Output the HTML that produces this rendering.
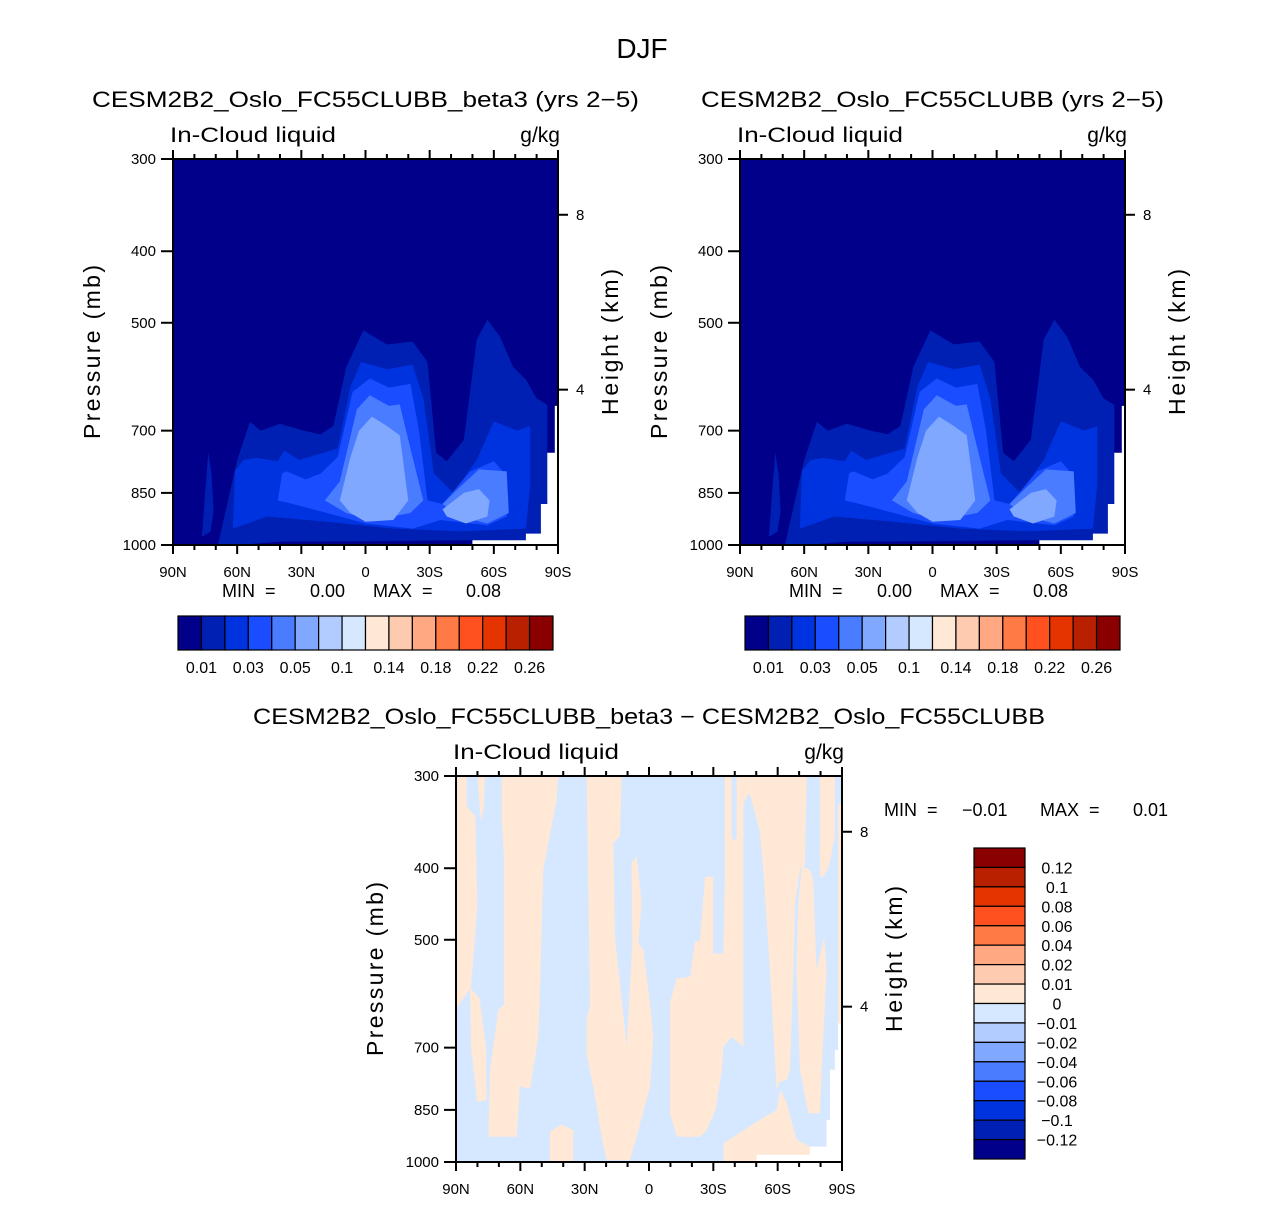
<!DOCTYPE html>
<html><head><meta charset="utf-8"><style>
html,body{margin:0;padding:0;background:#fff;}
svg text{font-family:"Liberation Sans",sans-serif;fill:#000;}
</style></head><body>
<svg id="fig" width="1285" height="1200" viewBox="0 0 1285 1200" xmlns="http://www.w3.org/2000/svg"></svg>
<script>
// ---------- data ----------
const colors16 = ["#00008a","#0020b4","#0033e0","#1a4dff","#4a7cff","#80a8ff","#b3ccff","#d6e8ff","#ffe8d6","#ffcbb0","#ffa882","#ff7a45","#ff5020","#e63400","#b82000","#8a0000"];
const topBarLabels = ["0.01","0.03","0.05","0.1","0.14","0.18","0.22","0.26"];
const diffBarLabels = ["0.12","0.1","0.08","0.06","0.04","0.02","0.01","0","−0.01","−0.02","−0.04","−0.06","−0.08","−0.1","−0.12"];
const latTicks = [90,60,30,0,-30,-60,-90];
const latTickLabels = ["90N","60N","30N","0","30S","60S","90S"];
const pressureTicks = [300,400,500,700,850,1000];
const heightTicks = [8,4];
const heightTickP = [357,616];
const topMinMax = ["0.00","0.08"];
const diffMinMax = ["−0.01","0.01"];
// contour bands for top panels: [lat, pressure]
const band001 = [[69,1000],[60,767],[54,681],[49,700],[40,685],[29,700],[21,708],[15,690],[9,574],[1,512],[-10,535],[-22,530],[-29,565],[-33,750],[-38,770],[-46,720],[-52,527],[-57,495],[-63,523],[-69,574],[-75,597],[-80,633],[-85,646],[-85,870],[-82,950],[-82,985],[-50,985],[40,990],[60,1000]];
const band001Blob = [[76.5,975],[75,850],[73.5,750],[72,800],[71,900],[72.5,960]];
const band002 = [[62,950],[61,793],[57,767],[51,762],[41,770],[38,745],[31,767],[13,740],[7,610],[2,565],[-10,578],[-22,570],[-27,633],[-32,800],[-41,850],[-52,767],[-60,680],[-71,700],[-77,690],[-77,830],[-75,950],[-44,958],[-13,950],[18,930],[46,915]];
const band003 = [[41,870],[39,800],[37,795],[28,815],[21,800],[13,760],[6,620],[-2,595],[-11,612],[-21,605],[-25,700],[-29,870],[-36,880],[-49,795],[-60,770],[-66,805],[-66,915],[-57,940],[-35,925],[-22,950],[0,935],[18,905],[34,880]];
const band004a = [[19,870],[12,820],[4,655],[-2,627],[-11,648],[-16,645],[-21,740],[-27,870],[-21,905],[-3,925],[9,905]];
const band004b = [[-36,880],[-44,835],[-53,790],[-66,795],[-67,905],[-57,935],[-44,915]];
const band005a = [[12,870],[7,760],[3,700],[-3,670],[-10,690],[-16,710],[-20,870],[-13,925],[0,930],[7,905]];
const band005b = [[-36,895],[-46,850],[-53,840],[-58,870],[-57,915],[-47,935],[-38,915]];
const missingTop = [[-50,1000],[-50,985],[-75,985],[-75,965],[-82,965],[-82,880],[-85,880],[-85,750],[-88.5,750],[-88.5,648],[-90,648],[-90,1000]];
// difference panel positive (0..0.01) regions
const diffPosD = [[90,300],[85,300],[85,330],[81,340],[80,450],[83,580],[90,620]];
const diffPosD2 = [[80,300],[76.5,300],[77,330],[78.5,345]];
const diffPosA = [[68.7,300],[68.7,344],[67.6,386],[67.6,611],[70.3,623],[74.1,750],[74.9,924],[61.7,924],[60.2,790],[55.5,796],[51.6,677],[50.8,580],[49.3,402],[43.1,323],[42.3,300]];
const diffPosA2 = [[83.5,580],[79,600],[76,700],[75.7,824],[80,830],[83,700]];
const diffPosA3 = [[46.2,1000],[46.2,910],[41,890],[35.3,905],[35.3,1000]];
const diffPosB = [[29.1,300],[12.7,300],[13.5,362],[16.6,370],[15.9,495],[10.4,697],[7.8,506],[8.1,394],[5.8,385],[3.4,446],[5,506],[2.6,516],[-0.5,611],[-2,677],[-0.5,790],[5.8,924],[8.9,994],[19.8,994],[22.1,924],[26,790],[29.1,713],[29.1,642],[27.5,611]];
const diffPosC = [[-35.4,300],[-73.5,300],[-72.7,397],[-70.4,401],[-68.1,446],[-67.3,550],[-65.7,750],[-64.2,774],[-61.1,778],[-59.5,798],[-56.4,550],[-53.3,402],[-51.7,357],[-47.1,318],[-46.3,317],[-44,327],[-44,698],[-38.5,677],[-34.7,698],[-34,750],[-31,850],[-27,905],[-23.8,924],[-12.9,924],[-9.8,859],[-9.8,609],[-12.9,564],[-19.1,561],[-21.4,503],[-23.8,501],[-26.1,411],[-30,411],[-30,522],[-34.7,522],[-35.4,411]];
const diffNegStrip = [[-38.5,300],[-40.9,300],[-40.9,363],[-39.7,368],[-38.5,363]];
const diffPosR = [[-71.2,398],[-75.1,402],[-76.6,415],[-78.1,550],[-81.7,495],[-82.8,550],[-80.5,750],[-79.7,859],[-74.3,859],[-70.4,750],[-68.8,550],[-69.6,446]];
const diffPosBottom = [[-34.7,943],[-51.7,877],[-59.5,850],[-61.1,798],[-64.2,832],[-68.8,933],[-75.1,953],[-75.1,1000],[-34.7,1000]];
const diffPosE = [[-79.7,300],[-86.7,300],[-86.7,360],[-84,398],[-81.3,411],[-79.7,411]];
const diffPosE2 = [[-88.2,327],[-90,327],[-90,649],[-88.2,649]];
const missingDiff = [[-50.2,1000],[-50.2,978],[-75,978],[-75,953],[-82.8,953],[-82.8,877],[-84.4,877],[-84.4,750],[-86.7,750],[-86.7,705],[-88.2,705],[-88.2,649],[-90,649],[-90,1000]];

// ---------- drawing ----------
const NS="http://www.w3.org/2000/svg";
const svg=document.getElementById('fig');
function el(tag,attrs,parent){const e=document.createElementNS(NS,tag);for(const k in attrs)e.setAttribute(k,attrs[k]);(parent||svg).appendChild(e);return e;}
function txt(s,x,y,size,anchor,name,extra){const t=el('text',Object.assign({x:x,y:y,'font-size':size,'text-anchor':anchor||'start'},extra||{}));t.textContent=s;


return t;}

function makeAxes(x0,y0,w,h){
  const xS=lat=>x0+(90-lat)/180*w;
  const yS=p=>y0+Math.log(p/300)/Math.log(1000/300)*h;
  return {xS,yS,x0,y0,w,h};
}
function poly(ax,pts,fill,g,name){
  const d=pts.map(q=>ax.xS(q[0]).toFixed(1)+','+ax.yS(q[1]).toFixed(1)).join(' ');
  const p=el('polygon',{points:d,fill:fill},g);
  
  
}
function frame(ax,name,title,titleLen){
  const {x0,y0,w,h,xS,yS}=ax;
  const g=el('g',{});
  
  
  el('rect',{x:x0,y:y0,width:w,height:h,fill:'none',stroke:'#000','stroke-width':2},g);
  for(let lat=90;lat>=-90;lat-=10){
    const major=(lat%30===0);const L=major?9:5;const x=xS(lat);
    el('line',{x1:x,x2:x,y1:y0+h,y2:y0+h+L,stroke:'#000','stroke-width':2},g);
    el('line',{x1:x,x2:x,y1:y0,y2:y0-L,stroke:'#000','stroke-width':2},g);
  }
  latTicks.forEach((lat,i)=>txt(latTickLabels[i],xS(lat),y0+h+32,15,'middle','x-tick-label'));
  pressureTicks.forEach(p=>{const y=yS(p);
    el('line',{x1:x0-12,x2:x0,y1:y,y2:y,stroke:'#000','stroke-width':2},g);
    txt(String(p),x0-17,y+5,15,'end','y-tick-label');});
  heightTicks.forEach((hk,i)=>{const y=yS(heightTickP[i]);
    el('line',{x1:x0+w,x2:x0+w+10,y1:y,y2:y,stroke:'#000','stroke-width':2},g);
    txt(String(hk),x0+w+18,y+5,15,'start','height-tick-label');});
  txt('Pressure (mb)',0,0,23,'middle','y-axis-title',{transform:`translate(${x0-73},${y0+h/2}) rotate(-90)`,textLength:174,lengthAdjust:'spacing'});
  txt('Height (km)',0,0,23,'middle','right-axis-title',{transform:`translate(${x0+w+60},${y0+h/2-10}) rotate(-90)`,textLength:146,lengthAdjust:'spacing'});
  txt('In-Cloud liquid',x0-3,y0-17,21,'start','variable-label',{textLength:166,lengthAdjust:'spacingAndGlyphs'});
  txt('g/kg',x0+w+2,y0-17,21,'end','units-label');
  txt(title,x0+w/2,y0-52,22,'middle','panel-title',{textLength:titleLen,lengthAdjust:'spacingAndGlyphs'});
}
function minMax(x,y,vals,offs){
  txt('MIN  =',x,y,18,'start','min-label',{style:'white-space:pre'});
  txt(vals[0],x+offs[0],y,18,'start','min-value');
  txt('MAX  =',x+offs[1],y,18,'start','max-label',{style:'white-space:pre'});
  txt(vals[1],x+offs[2],y,18,'start','max-value');
}
function topPanel(x0,y0,name,title,titleLen){
  const ax=makeAxes(x0,y0,385,386);
  const cid='clip-'+name;
  const cp=el('clipPath',{id:cid});el('rect',{x:x0,y:y0,width:385,height:386},cp);
  const g=el('g',{'clip-path':`url(#${cid})`});
  
  
  el('rect',{x:x0,y:y0,width:385,height:386,fill:colors16[0]},g);
  poly(ax,band001,colors16[1],g,'contour-0.01');
  poly(ax,band001Blob,colors16[1],g,'contour-0.01');
  poly(ax,band002,colors16[2],g,'contour-0.02');
  poly(ax,band003,colors16[3],g,'contour-0.03');
  poly(ax,band004a,colors16[4],g,'contour-0.04');
  poly(ax,band004b,colors16[4],g,'contour-0.04');
  poly(ax,band005a,colors16[5],g,'contour-0.05');
  poly(ax,band005b,colors16[5],g,'contour-0.05');
  poly(ax,missingTop,'#ffffff',g,'missing-data');
  frame(ax,name,title,titleLen);
  minMax(x0+49,597,topMinMax,[88,151,244]);
  const bx=x0+5,by=616,bw=375/16,bh=34;
  const cb=el('g',{});
  
  
  colors16.forEach((c,i)=>el('rect',{x:bx+i*bw,y:by,width:bw,height:bh,fill:c,stroke:'#000','stroke-width':1.2},cb));
  topBarLabels.forEach((s,i)=>txt(s,bx+(2*i+1)*bw,by+bh+23,16,'middle','colorbar-label'));
}

txt('DJF',642,58,28,'middle','figure-title');
topPanel(173,159,'panel-beta3','CESM2B2_Oslo_FC55CLUBB_beta3 (yrs 2−5)',547);
topPanel(740,159,'panel-control','CESM2B2_Oslo_FC55CLUBB (yrs 2−5)',463);

(function(){
  const x0=456,y0=776;const ax=makeAxes(x0,y0,386,386);
  const cp=el('clipPath',{id:'clip-diff'});el('rect',{x:x0,y:y0,width:386,height:386},cp);
  const g=el('g',{'clip-path':'url(#clip-diff)'});
  
  
  el('rect',{x:x0,y:y0,width:386,height:386,fill:colors16[7]},g);
  [diffPosD,diffPosD2,diffPosA,diffPosA2,diffPosA3,diffPosB,diffPosC,diffPosR,diffPosBottom,diffPosE,diffPosE2].forEach(b=>poly(ax,b,colors16[8],g,'contour-positive'));
  poly(ax,diffNegStrip,colors16[7],g,'contour-negative');
  poly(ax,missingDiff,'#ffffff',g,'missing-data');
  frame(ax,'panel-diff','CESM2B2_Oslo_FC55CLUBB_beta3 − CESM2B2_Oslo_FC55CLUBB',792);
  minMax(884,816,diffMinMax,[78,156,249]);
  const bx=974,by=848,bw=51,bh=311/16;
  const cb=el('g',{});
  
  
  colors16.slice().reverse().forEach((c,i)=>el('rect',{x:bx,y:by+i*bh,width:bw,height:bh,fill:c,stroke:'#000','stroke-width':1.2},cb));
  diffBarLabels.forEach((s,i)=>txt(s,1057,by+(i+1)*bh+6,16,'middle','colorbar-label'));
})();
</script>
</body></html>
